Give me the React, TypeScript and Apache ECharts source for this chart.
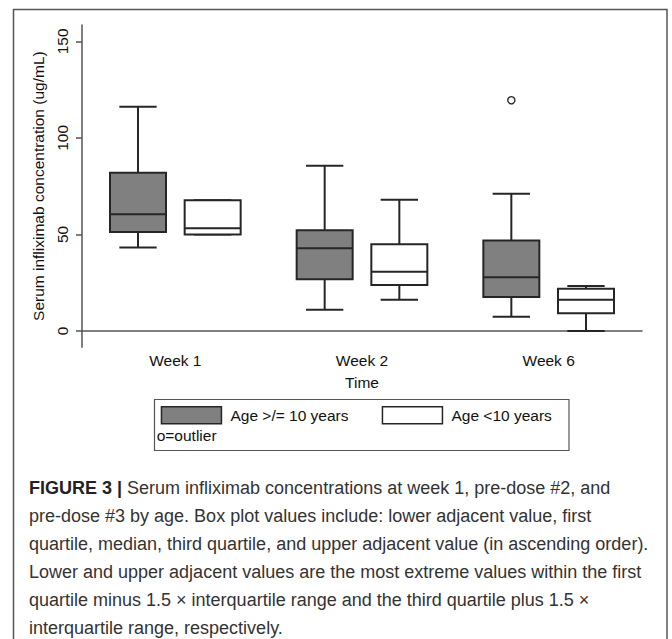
import React, { useEffect, useRef } from 'react';
import * as echarts from 'echarts';

const categories = ['Week 1', 'Week 2', 'Week 6'];
const yTicks = [0, 50, 100, 150];
const seriesNames = ['Age >/= 10 years', 'Age <10 years'];
// [lower adjacent, Q1, median, Q3, upper adjacent]
const olderStats = [
  [43.2, 51.3, 60.5, 82.0, 116.1],
  [11.0, 26.8, 42.8, 52.2, 85.6],
  [7.3, 17.6, 27.8, 46.8, 71.0],
];
const youngerStats = [
  [49.9, 49.9, 53.2, 67.7, 67.7],
  [16.2, 23.8, 30.7, 44.9, 68.0],
  [0.0, 9.2, 16.1, 21.9, 23.3],
];
// [category index, value]
const olderOutliers = [[2, 119.5]];

const captionLines = [
  ' Serum infliximab concentrations at week 1, pre-dose #2, and',
  'pre-dose #3 by age. Box plot values include: lower adjacent value, first',
  'quartile, median, third quartile, and upper adjacent value (in ascending order).',
  'Lower and upper adjacent values are the most extreme values within the first',
  'quartile minus 1.5 \u00d7 interquartile range and the third quartile plus 1.5 \u00d7',
  'interquartile range, respectively.',
];

const FONT = '"Liberation Sans", Arial, Helvetica, sans-serif';
const STROKE = '#262626';
const GRAY = '#808080';

function makeBoxRender(offsetFrac: number, fill: string) {
  return (params: any, api: any) => {
    const cat = api.value(0);
    const low = api.value(1);
    const q1 = api.value(2);
    const med = api.value(3);
    const q3 = api.value(4);
    const high = api.value(5);
    const band = api.size([1, 0])[0];
    const cx = api.coord([cat, 0])[0] + offsetFrac * band;
    const bw = band * 0.3;
    const cw = band * 0.2;
    const y = (v: number) => api.coord([cat, v])[1];
    const yl = y(low), y1 = y(q1), ym = y(med), y3 = y(q3), yh = y(high);
    const ls = { stroke: STROKE, lineWidth: 2 };
    return {
      type: 'group',
      children: [
        { type: 'line', shape: { x1: cx, y1: yh, x2: cx, y2: y3 }, style: ls },
        { type: 'line', shape: { x1: cx - cw / 2, y1: yh, x2: cx + cw / 2, y2: yh }, style: ls },
        { type: 'line', shape: { x1: cx, y1: yl, x2: cx, y2: y1 }, style: ls },
        { type: 'line', shape: { x1: cx - cw / 2, y1: yl, x2: cx + cw / 2, y2: yl }, style: ls },
        {
          type: 'rect',
          shape: { x: cx - bw / 2, y: y3, width: bw, height: y1 - y3 },
          style: { fill, stroke: STROKE, lineWidth: 2 },
        },
        { type: 'line', shape: { x1: cx - bw / 2, y1: ym, x2: cx + bw / 2, y2: ym }, style: ls },
      ],
    };
  };
}

function makeOutlierRender(offsetFrac: number) {
  return (params: any, api: any) => {
    const band = api.size([1, 0])[0];
    const p = api.coord([api.value(0), api.value(1)]);
    return {
      type: 'circle',
      shape: { cx: p[0] + offsetFrac * band, cy: p[1], r: 3.6 },
      style: { fill: '#fff', stroke: STROKE, lineWidth: 1.4 },
    };
  };
}

export default function App() {
  const ref = useRef<HTMLDivElement>(null);
  useEffect(() => {
    if (!ref.current) return;
    const chart = echarts.init(ref.current, undefined, { renderer: 'svg' });
    const legendCommon = {
      orient: 'horizontal',
      itemWidth: 60,
      itemHeight: 17,
      padding: 0,
      selectedMode: false,
      textStyle: { fontSize: 15.5, color: '#111', fontFamily: FONT, padding: [0, 0, 0, 4] },
    };
    const option: any = {
      animation: false,
      backgroundColor: '#fff',
      grid: { left: 82, right: 30, top: 25, bottom: 291.7 },
      xAxis: {
        type: 'category',
        data: categories,
        name: 'Time',
        nameLocation: 'middle',
        nameGap: 27,
        nameTextStyle: { fontSize: 15.5, color: '#111', fontFamily: FONT },
        axisLine: { lineStyle: { color: '#555', width: 1.5 } },
        axisTick: { show: false },
        axisLabel: { fontSize: 15.5, color: '#111', fontFamily: FONT, margin: 5 },
        splitLine: { show: false },
      },
      yAxis: {
        type: 'value',
        min: -8.5,
        max: 158.5,
        name: 'Serum infliximab concentration (ug/mL)',
        nameLocation: 'middle',
        nameRotate: 90,
        nameGap: 24.5,
        nameTextStyle: { fontSize: 15.5, color: '#111', fontFamily: FONT },
        axisLine: { show: true, lineStyle: { color: '#555', width: 1.5 } },
        axisTick: { show: true, length: 6, customValues: yTicks, lineStyle: { color: '#555', width: 1.5 } },
        axisLabel: { rotate: 90, fontSize: 15.5, color: '#111', fontFamily: FONT, margin: 12, customValues: yTicks },
        splitLine: { show: false },
      },
      legend: [
        {
          ...legendCommon,
          left: 160.7,
          top: 406,
          data: [{ name: seriesNames[0], icon: 'rect', itemStyle: { color: GRAY, borderColor: STROKE, borderWidth: 1.5 } }],
        },
        {
          ...legendCommon,
          left: 381.7,
          top: 406,
          data: [{ name: seriesNames[1], icon: 'rect', itemStyle: { color: '#fff', borderColor: STROKE, borderWidth: 1.5 } }],
        },
      ],
      series: [
        {
          type: 'custom',
          name: seriesNames[0],
          itemStyle: { color: GRAY, borderColor: STROKE },
          encode: { x: 0, y: [1, 2, 3, 4, 5] },
          renderItem: makeBoxRender(-0.2, GRAY),
          data: olderStats.map((s, i) => [i, ...s]),
        },
        {
          type: 'custom',
          name: seriesNames[1],
          itemStyle: { color: '#fff', borderColor: STROKE },
          encode: { x: 0, y: [1, 2, 3, 4, 5] },
          renderItem: makeBoxRender(0.2, '#fff'),
          data: youngerStats.map((s, i) => [i, ...s]),
        },
        {
          type: 'custom',
          name: 'outlier',
          encode: { x: 0, y: 1 },
          renderItem: makeOutlierRender(-0.2),
          data: olderOutliers,
        },
      ],
      graphic: [
        {
          type: 'rect',
          silent: true,
          shape: { x: 13.5, y: 9.5, width: 653.5, height: 700 },
          style: { fill: 'none', stroke: '#555', lineWidth: 1.5 },
        },
        {
          type: 'rect',
          silent: true,
          shape: { x: 154.5, y: 399.5, width: 414.5, height: 51 },
          style: { fill: 'none', stroke: '#555', lineWidth: 1.2 },
        },
        {
          type: 'text',
          x: 156.7,
          y: 435,
          style: { text: 'o=outlier', font: `15.5px ${FONT}`, fill: '#111', verticalAlign: 'middle', align: 'left' },
        },
        ...captionLines.map((line, i) => ({
          type: 'text',
          x: 29,
          y: 488 + i * 28,
          style: i === 0
            ? {
                text: `{b|FIGURE 3 |}${line}`,
                font: `18px ${FONT}`,
                fill: '#333',
                verticalAlign: 'middle',
                align: 'left',
                rich: { b: { fontWeight: 'bold', fontSize: 18, fontFamily: FONT, fill: '#222' } },
              }
            : { text: line, font: `18px ${FONT}`, fill: '#333', verticalAlign: 'middle', align: 'left' },
        })),
      ],
    };
    chart.setOption(option);
    return () => chart.dispose();
  }, []);
  return (
    <div
      ref={ref}
      style={{ position: 'absolute', left: 0, top: 0, width: 672, height: 639, background: '#fff' }}
    />
  );
}
